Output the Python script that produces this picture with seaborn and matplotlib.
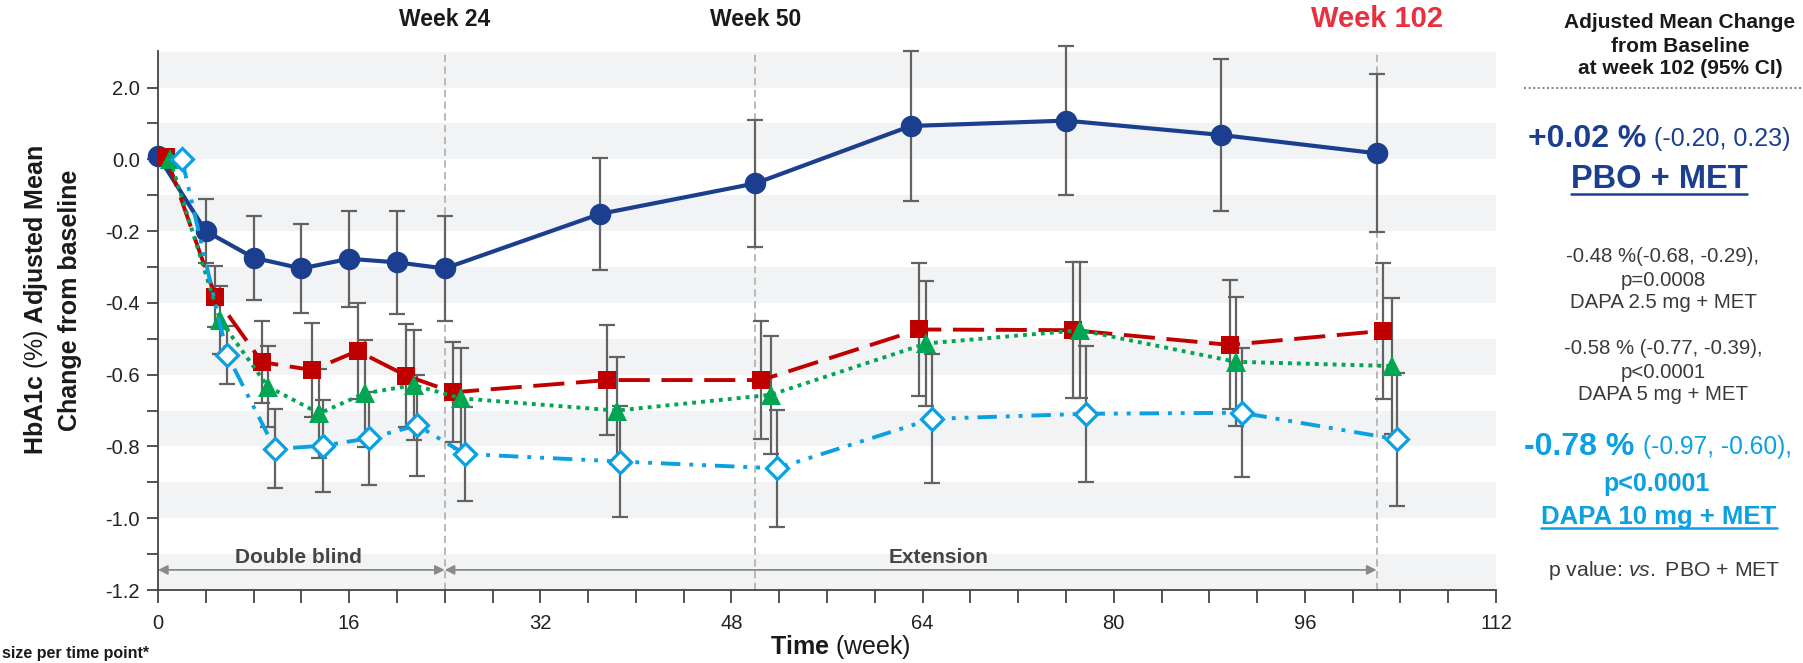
import numpy as np
import pandas as pd
import matplotlib
matplotlib.use("Agg")
import matplotlib.pyplot as plt
from matplotlib.lines import Line2D
import seaborn as sns

# ---------------- data ----------------
pbo_weeks = [0, 4, 8, 12, 16, 20, 24, 37, 50, 63, 76, 89, 102]
pbo_mean = [0.01, -0.20, -0.274, -0.304, -0.277, -0.287, -0.304, -0.152, -0.067, 0.093, 0.108, 0.068, 0.017]
pbo_ci = [0, 0.09, 0.117, 0.123, 0.133, 0.143, 0.147, 0.155, 0.177, 0.21, 0.207, 0.213, 0.22]

d25_weeks = [0.7, 4.8, 8.7, 12.9, 16.7, 20.8, 24.7, 37.6, 50.5, 63.7, 76.6, 89.7, 102.5]
d25_mean = [0.007, -0.383, -0.565, -0.587, -0.534, -0.603, -0.649, -0.615, -0.615, -0.474, -0.476, -0.517, -0.478]
d25_ci = [0, 0.085, 0.114, 0.13, 0.135, 0.143, 0.139, 0.153, 0.165, 0.185, 0.19, 0.18, 0.19]

d5_weeks = [1.0, 5.2, 9.2, 13.5, 17.3, 21.4, 25.4, 38.4, 51.3, 64.3, 77.2, 90.2, 103.3]
d5_mean = [0.0, -0.448, -0.633, -0.708, -0.652, -0.629, -0.666, -0.70, -0.656, -0.513, -0.476, -0.564, -0.576]
d5_ci = [0, 0.094, 0.114, 0.123, 0.149, 0.153, 0.14, 0.15, 0.165, 0.175, 0.19, 0.18, 0.19]

d10_weeks = [2.0, 5.8, 9.8, 13.8, 17.7, 21.7, 25.7, 38.7, 51.8, 64.8, 77.7, 90.7, 103.7]
d10_mean = [0.0, -0.545, -0.807, -0.798, -0.777, -0.741, -0.821, -0.842, -0.861, -0.723, -0.709, -0.706, -0.78]
d10_ci = [0, 0.08, 0.11, 0.128, 0.13, 0.14, 0.13, 0.155, 0.163, 0.18, 0.19, 0.18, 0.185]

x_ticks = [0, 16, 32, 48, 64, 80, 96, 112]
y_ticks = [0.2, 0.0, -0.2, -0.4, -0.6, -0.8, -1.0, -1.2]
y_tick_labels = ["2.0", "0.0", "-0.2", "-0.4", "-0.6", "-0.8", "-1.0", "-1.2"]
milestones = [24, 50, 102]
milestone_labels = ["Week 24", "Week 50", "Week 102"]

NAVY = "#1b3f8e"
RED = "#c00000"
GREEN = "#00a651"
CYAN = "#0aa0e2"

# ---------------- style ----------------
sns.set_theme(style="white")
plt.rcParams["font.family"] = ["Liberation Sans", "DejaVu Sans"]
plt.rcParams["mathtext.fontset"] = "custom"
plt.rcParams["mathtext.rm"] = "Liberation Sans"
plt.rcParams["mathtext.bf"] = "Liberation Sans:bold"
plt.rcParams["mathtext.it"] = "Liberation Sans:italic"

W, H = 1803, 663
fig = plt.figure(figsize=(W / 100, H / 100), dpi=100)
ax = fig.add_axes([158 / W, 1 - 590 / H, (1496 - 158) / W, (590 - 51) / H])


def px(x, y):
    # pixel position (from top-left) -> figure fraction
    return x / W, 1 - y / H


# grey horizontal bands
for k in range(-6, 2):
    ax.axhspan(k * 0.2, k * 0.2 + 0.1, color="#f2f3f5", lw=0, zorder=0)

for wk in milestones:
    ax.axvline(wk, color="#b3b3b3", lw=1.3, ls=(0, (4, 2.5)), zorder=1)

# ---------------- series ----------------
series = [
    (pbo_weeks, pbo_mean, pbo_ci, dict(color=NAVY, marker="o", markersize=15.5, lw=3,
                                       linestyle="-", markeredgewidth=0)),
    (d25_weeks, d25_mean, d25_ci, dict(color=RED, marker="s", markersize=13.2, lw=2.8,
                                       linestyle=(0, (8, 3)), markeredgewidth=0)),
    (d5_weeks, d5_mean, d5_ci, dict(color=GREEN, marker="^", markersize=14.5, lw=2.8,
                                    linestyle=(0, (1, 1.3)), markeredgewidth=0)),
    (d10_weeks, d10_mean, d10_ci, dict(color=CYAN, marker="D", markersize=11, lw=2.8,
                                       linestyle=(0, (5, 2.3, 1, 2.3, 1, 2.3)),
                                       markerfacecolor="white", markeredgecolor=CYAN,
                                       markeredgewidth=2.3)),
]

for wk, mean, ci, style in series:
    eb = ax.errorbar(wk[1:], mean[1:], yerr=ci[1:], fmt="none", ecolor="#626262",
                     elinewidth=1.6, capsize=5.6, capthick=1.6, zorder=2)
    for art in eb.get_children():
        art.set_clip_on(False)

for i, (wk, mean, ci, style) in enumerate(series):
    df = pd.DataFrame({"week": wk, "change": mean})
    sns.lineplot(data=df, x="week", y="change", ax=ax, errorbar=None,
                 zorder=3 + i, clip_on=False, **style)

# ---------------- axes ----------------
ax.set_xlim(0, 112)
ax.set_ylim(-1.2, 0.302)
ax.set_xticks(x_ticks)
ax.set_xticks(np.arange(0, 113, 4), minor=True)
ax.set_yticks(y_ticks, labels=y_tick_labels)
ax.set_yticks(np.arange(-1.1, 0.2, 0.2), minor=True)
ax.set_xlabel("")
ax.set_ylabel("")
ax.tick_params(which="both", bottom=True, left=True, direction="out",
               color="#444444", width=1.3, labelsize=14.5, labelcolor="#222222")
ax.tick_params(axis="x", which="both", length=9, pad=8)
ax.tick_params(axis="y", which="both", length=8, pad=5)
for side in ["top", "right"]:
    ax.spines[side].set_visible(False)
for side in ["left", "bottom"]:
    ax.spines[side].set_color("#444444")
    ax.spines[side].set_linewidth(1.3)

# phase arrows
arrow_kw = dict(arrowstyle="<|-|>", color="#8a8a8a", lw=1.3, mutation_scale=14,
                shrinkA=0, shrinkB=0)
ax.annotate("", xy=(24, -1.144), xytext=(0, -1.144), arrowprops=arrow_kw, zorder=2)
ax.annotate("", xy=(102, -1.144), xytext=(24, -1.144), arrowprops=arrow_kw, zorder=2)
ax.text(11.75, -1.11, "Double blind", ha="center", va="center", fontsize=15,
        fontweight="bold", color="#444444")
ax.text(65.3, -1.11, "Extension", ha="center", va="center", fontsize=15,
        fontweight="bold", color="#444444")

# milestone labels
for wk, lab in zip(milestones, milestone_labels):
    big = lab == "Week 102"
    ax.text(wk, 0.302 + 32 / 359, lab, ha="center", va="center",
            fontsize=21 if big else 16.5, fontweight="bold",
            color="#e8303f" if big else "#1a1a1a")

# axis titles
fig.text(*px(840, 647), r"$\mathbf{Time}$ (week)", ha="center", va="center",
         fontsize=18, color="#1a1a1a")
fig.text(*px(36, 300), r"$\mathbf{HbA1c}$ (%) $\mathbf{Adjusted\ Mean}$", rotation=90,
         ha="center", va="center", fontsize=18, color="#1a1a1a")
fig.text(*px(70, 300), "Change from baseline", rotation=90, ha="center", va="center",
         fontsize=18, fontweight="bold", color="#1a1a1a")
fig.text(*px(2, 646), "size per time point*", ha="left", va="top", fontsize=11.5,
         fontweight="bold", color="#1a1a1a")

# ---------------- right-hand panel ----------------
header = ["Adjusted Mean Change", "from Baseline", "at week 102 (95% CI)"]
for line, yy in zip(header, [23, 46, 68]):
    fig.text(*px(1680, yy), line, ha="center", va="center", fontsize=15,
             fontweight="bold", color="#1a1a1a")
fig.add_artist(Line2D([1524 / W, 1], [1 - 88 / H] * 2, color="#8a8a8a", lw=1.5,
                      ls=(0, (1, 1.2))))

fig.text(*px(1646, 139), "+0.02 %", ha="right", va="center", fontsize=23,
         fontweight="bold", color=NAVY)
fig.text(*px(1654, 139), "(-0.20, 0.23)", ha="left", va="center", fontsize=18, color=NAVY)
pbo_lab = fig.text(*px(1659, 180), "PBO + MET", ha="center", va="center", fontsize=23.5,
                   fontweight="bold", color=NAVY)

grey_blocks = [
    (["-0.48 %(-0.68, -0.29),", "p=0.0008", "DAPA 2.5 mg + MET"], [257, 280, 303]),
    (["-0.58 % (-0.77, -0.39),", "p<0.0001", "DAPA 5 mg + MET"], [349, 372, 395]),
]
for lines, ys in grey_blocks:
    for line, yy in zip(lines, ys):
        fig.text(*px(1663, yy), line, ha="center", va="center", fontsize=14.7,
                 color="#3a3a3a")

fig.text(*px(1634, 447), "-0.78 %", ha="right", va="center", fontsize=23,
         fontweight="bold", color=CYAN)
fig.text(*px(1643, 447), "(-0.97, -0.60),", ha="left", va="center", fontsize=17.7,
         color=CYAN)
fig.text(*px(1657, 484), "p<0.0001", ha="center", va="center", fontsize=18,
         fontweight="bold", color=CYAN)
d10_lab = fig.text(*px(1659, 517), "DAPA 10 mg + MET", ha="center", va="center",
                   fontsize=18.5, fontweight="bold", color=CYAN)
fig.text(*px(1664, 571), r"p value: $\mathit{vs.}$ PBO + MET", ha="center", va="center",
         fontsize=15.3, color="#3a3a3a")

# underline the two highlighted group names
fig.canvas.draw()
for t, col in [(pbo_lab, NAVY), (d10_lab, CYAN)]:
    bb = t.get_window_extent()
    yy = (bb.y0 + 1) / fig.bbox.height
    fig.add_artist(Line2D([bb.x0 / fig.bbox.width, bb.x1 / fig.bbox.width], [yy, yy],
                          color=col, lw=1.8))

fig.savefig("out.png", dpi=100)
